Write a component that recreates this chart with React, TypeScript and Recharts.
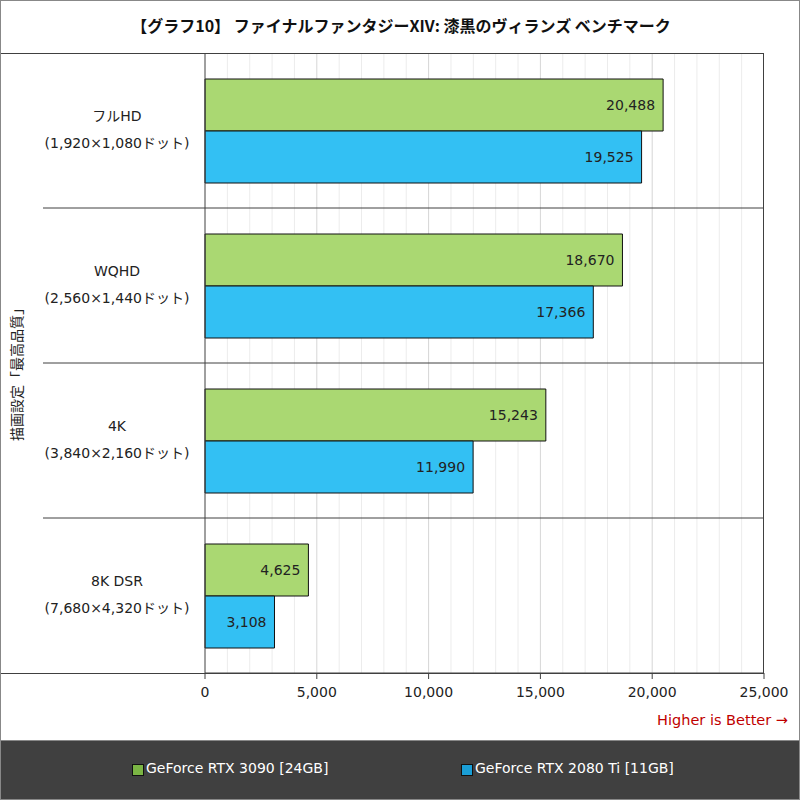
import React from 'react';
import {
    BarChart,
    Bar,
    XAxis,
    YAxis,
    CartesianGrid,
    LabelList
} from 'recharts';

const categories = ['フルHD', 'WQHD', '4K', '8K DSR'];
const resolutions = [
    '(1,920×1,080ドット)',
    '(2,560×1,440ドット)',
    '(3,840×2,160ドット)',
    '(7,680×4,320ドット)'
];
const rtx3090 = [20488, 18670, 15243, 4625];
const rtx2080ti = [19525, 17366, 11990, 3108];
const xTicks = [0, 5000, 10000, 15000, 20000, 25000];
const minorTicks = [1000, 2000, 3000, 4000, 6000, 7000, 8000, 9000, 11000, 12000, 13000, 14000,
    16000, 17000, 18000, 19000, 21000, 22000, 23000, 24000];

const seriesNames = ['GeForce RTX 3090 [24GB]', 'GeForce RTX 2080 Ti [11GB]'];

const data = categories.map((name, i) => ({
    name,
    res: resolutions[i],
    a: rtx3090[i],
    b: rtx2080ti[i]
}));

const X_MAX = 25000;
const CHART_H = 740;
const TOP = 53;
const X_AXIS_H = 67;
const PLOT_RIGHT = 764;
const BAND = (CHART_H - TOP - X_AXIS_H) / categories.length;

const FONT = '"DejaVu Sans", "Noto Sans CJK JP", sans-serif';
const fmt = (v: any) => Number(v).toLocaleString('en-US');

// vertical grid lines at the given values, mapped into the plot area
const gridFrom = (values: number[]) => (args: any) => {
    const off = args && args.offset;
    if (!off) return [];
    return values.map(v => off.left + (v / X_MAX) * off.width);
};

function CategoryTick(props: any) {
    const { y, payload, index } = props;
    const row = data[index] || data.find(d => d.name === payload.value);
    return (
        <g>
            {index > 0 && (
                <line x1={43} x2={PLOT_RIGHT} y1={y - BAND / 2} y2={y - BAND / 2} stroke="#404040" strokeWidth={1} />
            )}
            <text x={117} y={y - 15} textAnchor="middle" dominantBaseline="central"
                fontFamily={FONT} fontSize={14} fill="#222">{payload.value}</text>
            <text x={117} y={y + 12} textAnchor="middle" dominantBaseline="central"
                fontFamily={FONT} fontSize={14} fill="#222">{row ? row.res : ''}</text>
        </g>
    );
}

export default function App() {
    return (
        <div style={{
            position: 'absolute', left: 0, top: 0, width: 800, height: 800,
            background: '#fff', boxSizing: 'border-box', border: '1px solid #888', overflow: 'hidden'
        }}>
            <div style={{
                position: 'absolute', left: 0, top: 12, width: 800, textAlign: 'center',
                fontFamily: '"Noto Sans CJK JP", sans-serif', fontWeight: 'bold', fontSize: 16, color: '#111'
            }}>
                【グラフ10】 ファイナルファンタジーXIV: 漆黒のヴィランズ ベンチマーク
            </div>
            <div style={{ position: 'absolute', left: -1, top: -1 }}>
                <BarChart
                    width={800}
                    height={CHART_H}
                    data={data}
                    layout="vertical"
                    margin={{ top: TOP, right: 800 - PLOT_RIGHT, left: 0, bottom: 0 }}
                    barCategoryGap={26}
                    barGap={0}
                >
                    <CartesianGrid horizontal={false} stroke="#ececec"
                        verticalCoordinatesGenerator={gridFrom(minorTicks)} />
                    <CartesianGrid horizontal={false} stroke="#d6d6d6"
                        verticalCoordinatesGenerator={gridFrom(xTicks.slice(1, -1))} />
                    <XAxis
                        type="number"
                        domain={[0, X_MAX]}
                        ticks={xTicks}
                        tickFormatter={fmt}
                        height={X_AXIS_H}
                        axisLine={{ stroke: '#404040' }}
                        tickLine={{ stroke: '#404040' }}
                        tickSize={6}
                        tick={{ fill: '#222', fontSize: 14, fontFamily: FONT }}
                        dy={6}
                    />
                    <YAxis
                        type="category"
                        dataKey="name"
                        width={205}
                        axisLine={{ stroke: '#404040' }}
                        tickLine={false}
                        tick={<CategoryTick />}
                        interval={0}
                    />
                    <Bar dataKey="a" name={seriesNames[0]} fill="#aad872" stroke="#111" strokeWidth={1} isAnimationActive={false}>
                        <LabelList dataKey="a" position="insideRight" offset={8} formatter={fmt}
                            style={{ fill: '#222', fontSize: 14, fontFamily: FONT }} />
                    </Bar>
                    <Bar dataKey="b" name={seriesNames[1]} fill="#33c0f3" stroke="#111" strokeWidth={1} isAnimationActive={false}>
                        <LabelList dataKey="b" position="insideRight" offset={8} formatter={fmt}
                            style={{ fill: '#222', fontSize: 14, fontFamily: FONT }} />
                    </Bar>
                </BarChart>
            </div>
            <div style={{
                position: 'absolute', left: -1, top: TOP - 1, width: PLOT_RIGHT, height: CHART_H - TOP - X_AXIS_H + 1,
                boxSizing: 'border-box', borderTop: '1px solid #404040', borderRight: '1px solid #404040',
                borderBottom: '1px solid #404040', pointerEvents: 'none'
            }} />
            <div style={{
                position: 'absolute', left: 5, top: 370, transform: 'translate(-50%, -50%) rotate(-90deg)',
                transformOrigin: 'center', marginLeft: 10, whiteSpace: 'nowrap',
                fontFamily: '"Noto Sans CJK JP", sans-serif', fontSize: 14, color: '#222'
            }}>
                描画設定「最高品質」
            </div>
            <div style={{
                position: 'absolute', right: 11, top: 711, fontFamily: FONT, fontSize: 14.5, color: '#c00000'
            }}>
                Higher is Better →
            </div>
            <div style={{
                position: 'absolute', left: 0, top: 739, width: 798, height: 59, background: '#404040',
                borderTop: '1px solid #888', fontFamily: FONT, fontSize: 14, color: '#fff'
            }}>
                <div style={{ position: 'absolute', left: 131, top: 23, width: 10, height: 10, background: '#7bb544', border: '1px solid #111' }} />
                <div style={{ position: 'absolute', left: 145, top: 19 }}>{seriesNames[0]}</div>
                <div style={{ position: 'absolute', left: 460, top: 23, width: 10, height: 10, background: '#1a9ed6', border: '1px solid #111' }} />
                <div style={{ position: 'absolute', left: 474, top: 19 }}>{seriesNames[1]}</div>
            </div>
        </div>
    );
}
